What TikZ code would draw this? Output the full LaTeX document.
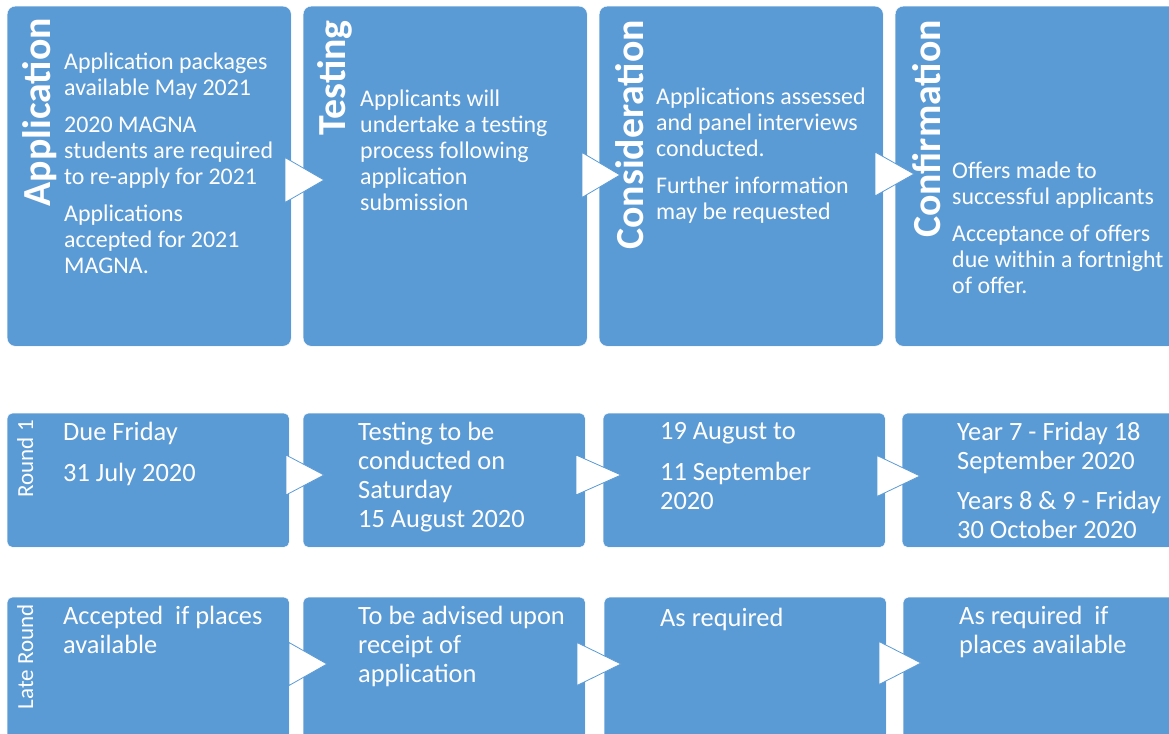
\documentclass[tikz,border=0pt]{standalone}
\usepackage{fontspec}
\setmainfont{Carlito}
\usetikzlibrary{positioning}
\definecolor{stageblue}{RGB}{91,155,213}

\begin{document}
\begin{tikzpicture}[x=1pt,y=-1pt,
  stage/.style={fill=stageblue,draw=white,rounded corners=8pt,anchor=north west,
    inner sep=0,minimum width=284pt,minimum height=340pt},
  slot/.style={fill=stageblue,draw=white,rounded corners=5pt,anchor=north west,
    inner sep=0,minimum width=282pt,minimum height=134pt},
  chev/.style={fill=white,draw=stageblue,line width=0.8pt},
  title/.style={text=white,inner sep=0,rotate=90,anchor=base east,
    font=\bfseries\fontsize{39.8}{42}\selectfont},
  round/.style={text=white,inner sep=0,rotate=90,anchor=base east,
    font=\fontsize{23}{25}\selectfont},
  % first baseline sits at the given point
  body/.style={text=white,inner sep=0,anchor=north west,align=left,yshift=15.7pt,
    font=\fontsize{23.9}{26}\selectfont,execute at begin node=\strut},
  date/.style={text=white,inner sep=0,anchor=north west,align=left,yshift=17.3pt,
    font=\fontsize{26.4}{29}\selectfont,execute at begin node=\strut}]
  \useasboundingbox (0,0) rectangle (1169,733);
  \clip (0,0) rectangle (1169,733);

  % stages
  \node[stage] (app)  at (7,6)   {};
  \node[stage] (test) at (303,6) {};
  \node[stage] (cons) at (599,6) {};
  \node[stage] (conf) at (895,6) {};

  % round 1
  \node[slot] (r1app)  at (7,413)   {};
  \node[slot] (r1test) at (303,413) {};
  \node[slot] (r1cons) at (603,413) {};
  \node[slot] (r1conf) at (902,413) {};

  % late round
  \node[slot, minimum height=160pt] (lrapp)  at (7,597)   {};
  \node[slot, minimum height=160pt] (lrtest) at (303,597) {};
  \node[slot, minimum height=160pt] (lrcons) at (604,597) {};
  \node[slot, minimum height=160pt] (lrconf) at (903,597) {};

  % chevrons between the boxes
  \foreach \x/\y/\h/\l in {285/180/22.5/39, 582/175/22.5/38, 875/174/22/39,
                           286/475/20/38, 576/475/20/45, 877/476/20.5/43,
                           289/664/21.5/38, 577/664/21.5/44, 879/663/21.5/42}
    \filldraw[chev] (\x,\y-\h) -- (\x+\l,\y) -- (\x,\y+\h) -- cycle;

  \node[title] (appt)  at (50,18)  {Application};
  \node[title] (testt) at (345,20) {Testing};
  \node[title] (const) at (643,20) {Consideration};
  \node[title] (conft) at (940,20) {Confirmation};

  \node[body] (appb) at (64,68) {Application packages\\available May 2021\\[11pt]
    2020 MAGNA\\students are required\\to re-apply for 2021\\[11pt]
    Applications\\accepted for 2021\\MAGNA.};
  \node[body] (testb) at (360,105) {Applicants will\\undertake a testing\\
    process following\\application\\submission};
  \node[body] (consb) at (656,103) {Applications assessed\\and panel interviews\\
    conducted.\\[11pt]Further information\\may be requested};
  \node[body] (confb) at (952,177) {Offers made to\\successful applicants\\[11pt]
    Acceptance of offers\\due within a fortnight\\of offer.};

  \node[round] (r1) at (33,420) {Round 1};
  \node[date] (r1appd)  at (63,439)  {Due Friday\\[12pt]31 July 2020};
  \node[date] (r1testd) at (358,439) {Testing to be\\conducted on\\Saturday\\15 August 2020};
  \node[date] (r1consd) at (660,439) {19 August to\\[12pt]11 September\\2020};
  \node[date] (r1confd) at (957,439) {Year 7 - Friday 18\\September 2020\\[11pt]
    Years 8 \& 9 - Friday\\30 October 2020};

  \node[round] (lr) at (33,604) {Late Round};
  \node[date] (lrappd)  at (63,623)  {Accepted\ \ if places\\available};
  \node[date] (lrtestd) at (358,623) {To be advised upon\\receipt of\\application};
  \node[date] (lrconsd) at (660,623) {As required};
  \node[date] (lrconfd) at (959,623) {As required\ \ if\\places available};
\end{tikzpicture}
\end{document}
